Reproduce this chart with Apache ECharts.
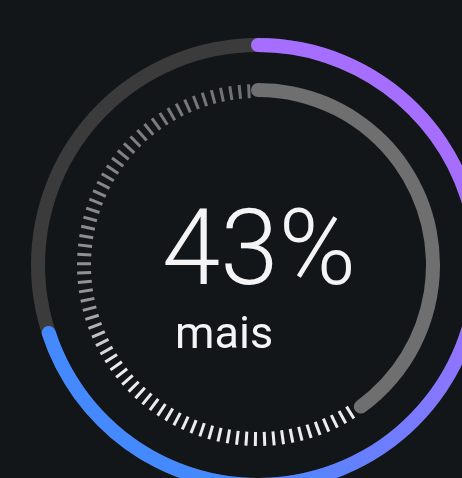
<!DOCTYPE html>
<html>
<head>
<meta charset="utf-8">
<style>
  html, body { margin: 0; padding: 0; background: #131619; }
  #main { width: 462px; height: 478px; }
</style>
<script src="https://cdn.jsdelivr.net/npm/echarts@6/dist/echarts.min.js"></script>
</head>
<body>
<div id="main"></div>
<script>
// values
const outerValue = [70];     // outer gradient ring, % of full circle
const innerValue = [40];     // grey inner arc, % of full circle
const headline = ['43%'];
const caption = ['mais'];
const tickCount = 70;        // dashes on the rest of the inner ring

const center = [258, 265];

// tick colours: bright near the grey arc end, fading to grey towards the top
const hex = (v) => Math.round(v).toString(16).padStart(2, '0');
const grey = (v) => '#' + hex(v) + hex(v) + hex(v);
const tickShade = (p) => {
	if (p < 0.42) return grey(236);
	if (p < 0.52) return grey(236 + (150 - 236) * (p - 0.42) / 0.1);
	return grey(150 + (112 - 150) * (p - 0.52) / 0.48);
};
const tickColors = [];
for (let i = 0; i <= tickCount; i++) {
	tickColors.push([Math.min(1, (i + 0.5) / tickCount), tickShade(i / tickCount)]);
}

const hidden = {
	pointer: { show: false },
	axisTick: { show: false },
	splitLine: { show: false },
	axisLabel: { show: false },
	title: { show: false },
	detail: { show: false },
};

const chart = echarts.init(document.getElementById('main'), null, { renderer: 'canvas' });
const option = {
	backgroundColor: '#131619',
	animation: false,
	series: [
		{
			type: 'gauge',
			center,
			radius: 227,
			startAngle: 90,
			endAngle: -270,
			min: 0,
			max: 100,
			axisLine: { lineStyle: { width: 14, color: [[1, '#3b3b3b']] } },
			progress: {
				show: true,
				width: 14,
				roundCap: true,
				itemStyle: {
					color: new echarts.graphic.LinearGradient(1, 0, 0, 1, [
						{ offset: 0, color: '#a56eff' },
						{ offset: 0.28, color: '#a56eff' },
						{ offset: 0.78, color: '#4589ff' },
						{ offset: 1, color: '#4589ff' },
					]),
				},
			},
			...hidden,
			data: outerValue.map((v) => ({ value: v })),
		},
		{
			type: 'gauge',
			center,
			radius: 182,
			startAngle: 90,
			endAngle: -270,
			min: 0,
			max: 100,
			axisLine: { show: false, lineStyle: { width: 14 } },
			progress: {
				show: true,
				width: 14,
				roundCap: true,
				itemStyle: { color: '#6f6f6f' },
			},
			...hidden,
			data: innerValue.map((v) => ({ value: v })),
		},
		{
			type: 'gauge',
			center,
			radius: 182,
			startAngle: 90 - 148,
			endAngle: 90 - 357,
			min: 0,
			max: tickCount,
			splitNumber: tickCount,
			axisLine: { show: false, lineStyle: { width: 1, color: tickColors } },
			...hidden,
			splitLine: {
				show: true,
				distance: 0,
				length: 14,
				lineStyle: { width: 3, color: 'auto' },
			},
			data: [{ value: 0 }],
		},
	],
	graphic: [
		{
			type: 'text',
			x: 259,
			y: 258,
			style: {
				text: headline[0],
				fill: '#f4f4f4',
				font: '300 105px Roboto',
				align: 'center',
				verticalAlign: 'middle',
			},
		},
		{
			type: 'text',
			x: 175,
			y: 337,
			style: {
				text: caption[0],
				fill: '#f4f4f4',
				font: '400 45px Roboto',
				align: 'left',
				verticalAlign: 'middle',
			},
		},
	],
};
option && chart.setOption(option);
</script>
</body>
</html>
